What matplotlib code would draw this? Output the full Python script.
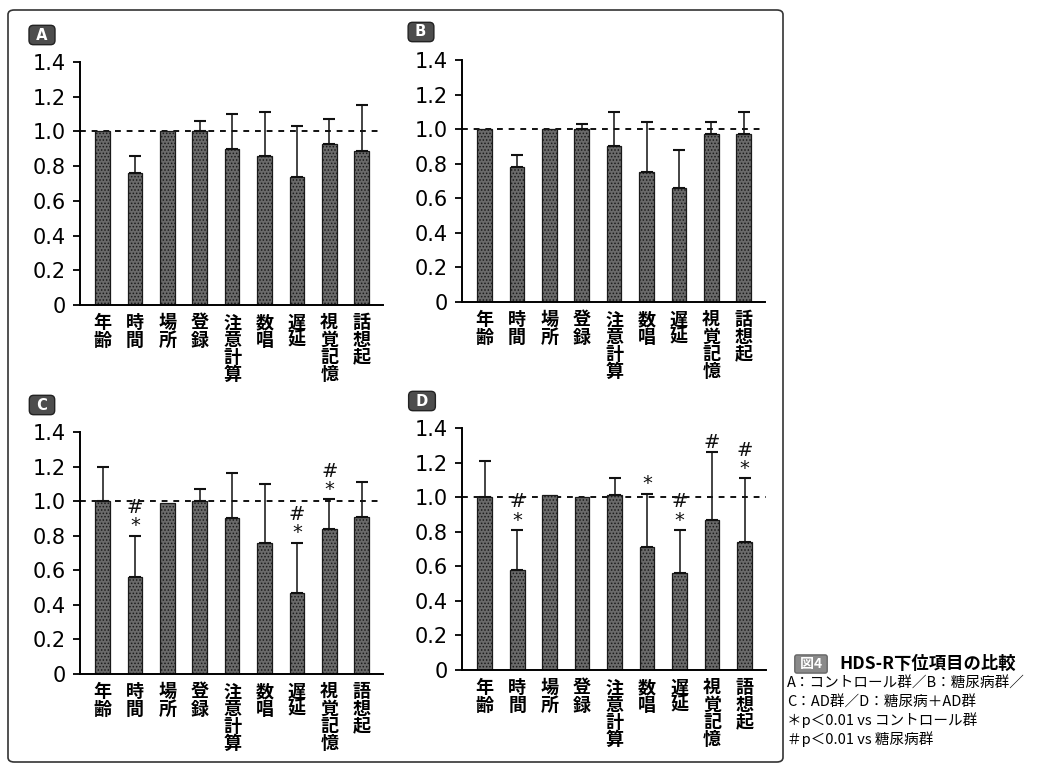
import numpy as np
import matplotlib.pyplot as plt
from matplotlib.patches import FancyBboxPatch

plt.rcParams['font.family'] = ['Noto Sans CJK JP', 'DejaVu Sans']
plt.rcParams['hatch.linewidth'] = 0.7

W, H = 1043, 765

items_ab = ['年齢', '時間', '場所', '登録', '注意計算', '数唱', '遅延', '視覚記憶', '話想起']
items_cd = ['年齢', '時間', '場所', '登録', '注意計算', '数唱', '遅延', '視覚記憶', '語想起']

mean_a = [1.00, 0.76, 1.00, 1.00, 0.90, 0.86, 0.74, 0.93, 0.89]
top_a = [1.00, 0.86, 1.00, 1.06, 1.10, 1.11, 1.03, 1.07, 1.15]
mark_a = ['', '', '', '', '', '', '', '', '']

mean_b = [1.00, 0.78, 1.00, 1.00, 0.90, 0.75, 0.66, 0.97, 0.97]
top_b = [1.00, 0.85, 1.00, 1.03, 1.10, 1.04, 0.88, 1.04, 1.10]
mark_b = ['', '', '', '', '', '', '', '', '']

mean_c = [1.00, 0.56, 0.99, 1.00, 0.90, 0.76, 0.47, 0.84, 0.91]
top_c = [1.20, 0.80, 0.99, 1.07, 1.16, 1.10, 0.76, 1.01, 1.11]
mark_c = ['', '#*', '', '', '', '', '#*', '#*', '']

mean_d = [1.00, 0.58, 1.01, 1.00, 1.01, 0.71, 0.56, 0.87, 0.74]
top_d = [1.21, 0.81, 1.01, 1.00, 1.11, 1.02, 0.81, 1.26, 1.11]
mark_d = ['', '#*', '', '', '', '*', '#*', '#', '#*']

yticks = [0, 0.2, 0.4, 0.6, 0.8, 1.0, 1.2, 1.4]
ytick_labels = ['0', '0.2', '0.4', '0.6', '0.8', '1.0', '1.2', '1.4']

fig = plt.figure(figsize=(W / 100, H / 100), dpi=100)

# outer frame around the four panels
frame = FancyBboxPatch((8 / W, 3 / H), 775 / W, 752 / H,
                       boxstyle='round,pad=0,rounding_size=0.006',
                       transform=fig.transFigure, fill=False,
                       ec='#333333', lw=1.2)
fig.patches.append(frame)


def panel(rect, letter, lpos, items, mean, top, marks):
    ax = fig.add_axes([rect[0] / W, 1 - rect[3] / H,
                       (rect[2] - rect[0]) / W, (rect[3] - rect[1]) / H])
    x = np.arange(len(items))
    err = np.array(top) - np.array(mean)
    ax.axhline(1.0, color='#111111', ls=(0, (3, 3)), lw=1.4, zorder=1)
    ax.bar(x, mean, width=0.45, color='#6a6a6a', edgecolor='#1a1a1a',
           hatch='.....', lw=0.9, zorder=2)
    for i in range(len(x)):
        if err[i] > 0.005:
            ax.errorbar(x[i], mean[i], yerr=[[0], [err[i]]], fmt='none',
                        ecolor='#111111', elinewidth=1.1, capsize=4,
                        capthick=1.5, zorder=3)
        if marks[i]:
            # significance marks stacked above the error bar cap
            ax.text(x[i], top[i] + 0.025, '\n'.join(marks[i]), ha='center',
                    va='baseline', fontsize=14, linespacing=0.95,
                    family='DejaVu Sans', color='#111111')
    ax.set_xlim(-0.7, len(items) - 1 + 0.66)
    ax.set_ylim(0, 1.4)
    ax.set_yticks(yticks)
    ax.set_yticklabels(ytick_labels, family='DejaVu Sans', fontsize=15)
    ax.set_xticks(x)
    ax.set_xticklabels(['\n'.join(s) for s in items], fontsize=13,
                       fontweight='bold', linespacing=0.88, va='top')
    ax.tick_params(axis='x', length=0, pad=6)
    ax.tick_params(axis='y', direction='out', length=5, width=1.3, pad=5)
    for s in ['top', 'right']:
        ax.spines[s].set_visible(False)
    for s in ['left', 'bottom']:
        ax.spines[s].set_linewidth(1.4)
    ax.patch.set_alpha(0)
    fig.text(lpos[0] / W, 1 - lpos[1] / H, ' ' + letter + ' ', ha='center',
             va='center', fontsize=10.5, fontweight='bold', color='white',
             family='DejaVu Sans',
             bbox=dict(boxstyle='round,pad=0.15,rounding_size=0.3',
                       fc='#4d4d4d', ec='#222222', lw=1))
    return ax


panel((80, 62, 383, 305), 'A', (42, 35), items_ab, mean_a, top_a, mark_a)
panel((462, 60, 765, 302), 'B', (421, 32), items_ab, mean_b, top_b, mark_b)
panel((80, 432, 383, 674), 'C', (42, 405), items_cd, mean_c, top_c, mark_c)
panel((462, 428, 766, 670), 'D', (422, 401), items_cd, mean_d, top_d, mark_d)

# caption
fig.text(811 / W, 1 - 664 / H, ' 図4 ', fontsize=10, fontweight='bold',
         color='white', va='center', ha='center',
         bbox=dict(boxstyle='round,pad=0.15', fc='#8a8a8a', ec='#666666'))
fig.text(839 / W, 1 - 664 / H, 'HDS-R下位項目の比較', fontsize=12.5,
         fontweight='bold', va='center', ha='left')
caption_lines = ['A：コントロール群／B：糖尿病群／',
                 'C：AD群／D：糖尿病＋AD群',
                 '＊p＜0.01 vs コントロール群',
                 '＃p＜0.01 vs 糖尿病群']
for i, line in enumerate(caption_lines):
    fig.text(787 / W, 1 - (684 + 18.3 * i) / H, line, fontsize=10.5,
             va='center', ha='left')

fig.savefig('out.png', dpi=100)
